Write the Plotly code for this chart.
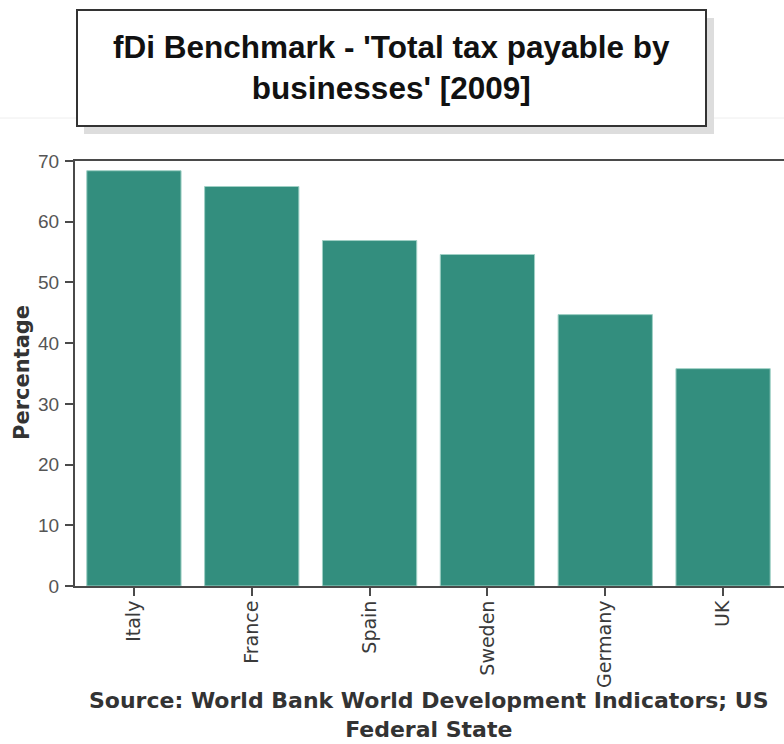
import plotly.graph_objects as go

# Total tax payable by businesses, 2009 (% of commercial profits)
countries = ["Italy", "France", "Spain", "Sweden", "Germany", "UK"]
tax_rate = [68.4, 65.8, 56.9, 54.6, 44.7, 35.8]
y_ticks = [0, 10, 20, 30, 40, 50, 60, 70]

title_lines = ["fDi Benchmark - 'Total tax payable by", "businesses' [2009]"]
source_lines = ["Source: World Bank World Development Indicators; US", "Federal State"]

W, H = 784, 744
ML, MR, MT, MB = 75, 0, 161, 158
PW, PH = W - ML - MR, H - MT - MB


def px(x):
    return (x - ML) / PW


def py(y):
    return (H - MB - y) / PH


BAR = "#338e7e"
AXIS = "#4a4a4a"

fig = go.Figure(
    go.Bar(
        x=countries,
        y=tax_rate,
        marker=dict(color=BAR, line=dict(color="#9fd0c5", width=1)),
        hoverinfo="x+y",
    )
)

shapes = [
    # faint rule behind the heading box
    dict(type="line", xref="paper", yref="paper", x0=px(0), x1=px(W), y0=py(118), y1=py(118),
         line=dict(color="#eeeeee", width=1)),
    # heading box drop shadow
    dict(type="rect", xref="paper", yref="paper", x0=px(84), x1=px(714), y0=py(134), y1=py(18),
         fillcolor="#dddddd", line=dict(width=0)),
    # heading box
    dict(type="rect", xref="paper", yref="paper", x0=px(77), x1=px(706), y0=py(126), y1=py(10),
         fillcolor="white", line=dict(color="#333333", width=2)),
]

annotations = [
    dict(text="<b>" + "<br>".join(title_lines) + "</b>", xref="paper", yref="paper",
         x=px(391.5), y=py(67), xanchor="center", yanchor="middle", showarrow=False,
         align="center",
         font=dict(family="Liberation Sans, Arial, sans-serif", size=31.5, color="#111111")),
    dict(text="<b>" + "<br>".join(source_lines) + "</b>", xref="paper", yref="paper",
         x=px(428.5), y=py(715), xanchor="center", yanchor="middle", showarrow=False,
         align="center",
         font=dict(family="DejaVu Sans, Verdana, sans-serif", size=22, color="#333333")),
    dict(text="<b>Percentage</b>", xref="paper", yref="paper", x=px(22), y=py(373),
         xanchor="center", yanchor="middle", showarrow=False, textangle=-90,
         font=dict(family="DejaVu Sans, Verdana, sans-serif", size=21, color="#333333")),
]

fig.update_layout(
    width=W,
    height=H,
    margin=dict(l=ML, r=MR, t=MT, b=MB, pad=0),
    paper_bgcolor="white",
    plot_bgcolor="white",
    bargap=0.2,
    showlegend=False,
    shapes=shapes,
    annotations=annotations,
    xaxis=dict(
        type="category",
        range=[-0.5, 5.517],
        showline=True,
        linecolor=AXIS,
        linewidth=2,
        mirror=True,
        ticks="outside",
        ticklen=8,
        tickcolor=AXIS,
        tickwidth=2,
        tickangle=-90,
        showgrid=False,
        zeroline=False,
        ticklabelstandoff=-3,
        tickfont=dict(family="DejaVu Sans, Verdana, sans-serif", size=19, color="#3a3a3a"),
    ),
    yaxis=dict(
        range=[0, 70],
        tickvals=y_ticks,
        showline=True,
        linecolor=AXIS,
        linewidth=2,
        ticks="outside",
        ticklen=8,
        tickcolor=AXIS,
        tickwidth=2,
        showgrid=False,
        zeroline=False,
        ticklabelstandoff=2,
        tickfont=dict(family="Liberation Sans, Arial, sans-serif", size=19, color="#555555"),
    ),
)

fig.write_html("out.html")
